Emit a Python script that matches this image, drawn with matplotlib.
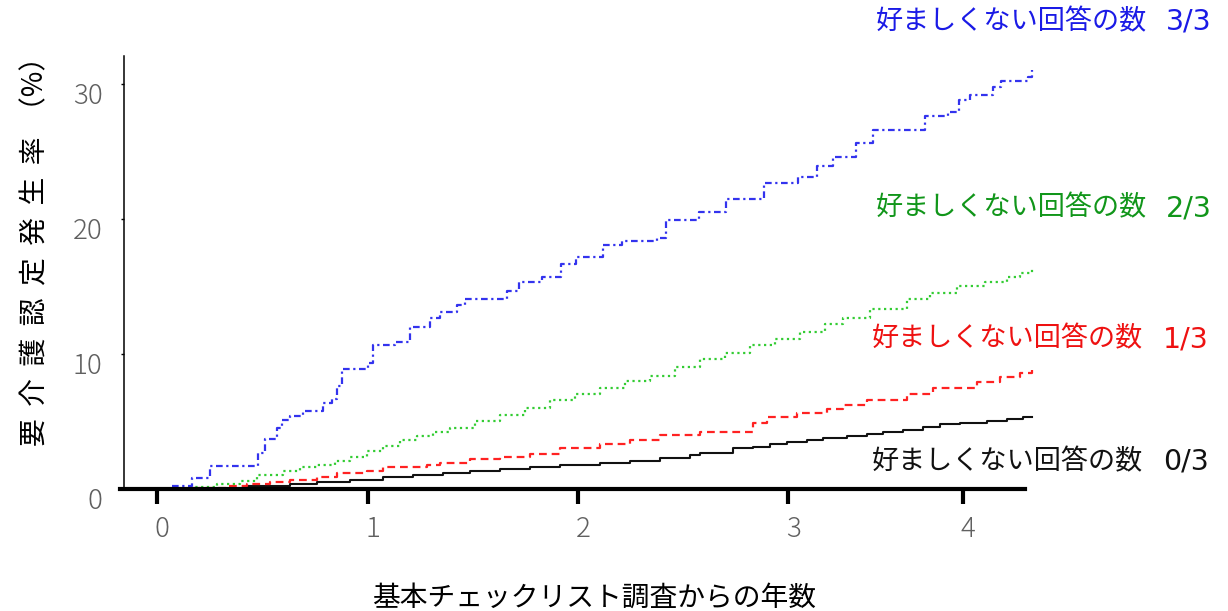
import matplotlib
matplotlib.use("Agg")
import matplotlib.pyplot as plt
import matplotlib.transforms as mtransforms

plt.rcParams['font.family'] = ['Noto Sans CJK JP', 'DejaVu Sans']

# ---- data (years since survey, cumulative incidence %) ----
blue_x = [0.070, 0.165, 0.251, 0.479, 0.512, 0.569, 0.593, 0.631, 0.693, 0.788, 0.830, 0.854,
          0.878, 1.002, 1.026, 1.131, 1.202, 1.297, 1.344, 1.425, 1.463, 1.663, 1.720, 1.829,
          1.920, 1.991, 2.119, 2.210, 2.376, 2.419, 2.576, 2.704, 2.885, 3.047, 3.137, 3.213,
          3.322, 3.403, 3.650, 3.760, 3.812, 3.865, 3.974, 4.012, 4.141, 4.159]
blue_y = [0.25, 0.8, 1.7, 2.7, 3.7, 4.5, 5.1, 5.4, 5.8, 6.4, 6.7, 7.6,
          8.9, 9.3, 10.7, 10.9, 12.0, 12.7, 13.1, 13.6, 14.1, 14.7, 15.3, 15.7,
          16.7, 17.2, 18.1, 18.4, 18.6, 19.9, 20.5, 21.5, 22.7, 23.1, 23.9, 24.6,
          25.6, 26.6, 27.6, 27.9, 28.8, 29.2, 29.8, 30.2, 30.5, 31.0]

green_x = [0.108, 0.170, 0.284, 0.393, 0.474, 0.598, 0.679, 0.759, 0.845, 0.916, 0.997, 1.073,
           1.154, 1.235, 1.311, 1.392, 1.511, 1.630, 1.748, 1.867, 1.986, 2.105, 2.224, 2.343,
           2.462, 2.581, 2.700, 2.818, 2.937, 3.056, 3.175, 3.261, 3.389, 3.565, 3.674, 3.803,
           3.936, 4.041, 4.103, 4.159]
green_y = [0.0, 0.15, 0.4, 0.6, 1.0, 1.3, 1.6, 1.8, 2.1, 2.4, 2.8, 3.2,
           3.6, 3.9, 4.2, 4.5, 5.0, 5.5, 6.0, 6.6, 7.0, 7.5, 8.0, 8.4,
           9.0, 9.6, 10.1, 10.7, 11.1, 11.6, 12.2, 12.7, 13.3, 14.1, 14.5, 15.0,
           15.3, 15.7, 16.0, 16.4]

red_x = [0.170, 0.331, 0.427, 0.536, 0.631, 0.759, 0.854, 0.997, 1.073, 1.282, 1.344, 1.487,
         1.630, 1.773, 1.915, 2.105, 2.248, 2.391, 2.581, 2.833, 2.899, 3.042, 3.185, 3.261,
         3.375, 3.565, 3.689, 3.898, 4.007, 4.103, 4.159]
red_y = [0.1, 0.2, 0.4, 0.5, 0.7, 0.9, 1.2, 1.3, 1.6, 1.8, 1.9, 2.2,
         2.4, 2.6, 3.0, 3.3, 3.6, 4.0, 4.2, 4.9, 5.3, 5.6, 5.9, 6.2,
         6.6, 7.0, 7.5, 7.9, 8.3, 8.6, 8.8]

black_x = [0.0, 0.427, 0.631, 0.759, 0.916, 1.073, 1.216, 1.359, 1.487, 1.630, 1.773, 1.915,
           2.105, 2.248, 2.391, 2.533, 2.581, 2.737, 2.833, 2.913, 2.994, 3.089, 3.166, 3.280,
           3.375, 3.451, 3.546, 3.641, 3.723, 3.817, 3.945, 4.041, 4.117, 4.159]
black_y = [0.0, 0.2, 0.4, 0.5, 0.7, 0.9, 1.0, 1.2, 1.3, 1.5, 1.6, 1.8,
           1.9, 2.1, 2.3, 2.5, 2.7, 3.0, 3.1, 3.3, 3.5, 3.6, 3.8, 3.9,
           4.1, 4.2, 4.4, 4.6, 4.8, 4.9, 5.0, 5.2, 5.3, 5.3]

label_prefix = "好ましくない回答の数"
label_fracs = ["0/3", "1/3", "2/3", "3/3"]
xtick_values = [0, 1, 2, 3, 3.83]
xtick_labels = ["0", "1", "2", "3", "4"]
ytick_values = [0, 10, 20, 30]
ytick_labels = ["0", "10", "20", "30"]
x_label = "基本チェックリスト調査からの年数"
y_label = "要  介  護  認  定  発  生  率  （%）"

# ---- figure ----
fig = plt.figure(figsize=(12.28, 6.11), dpi=100)
ax = fig.add_axes([0.0972, 0.1997, 0.7502, 0.7115])
ax.set_xlim(-0.18, 4.2)
ax.set_ylim(0, 32.2)

ax.step(black_x, black_y, where='post', color='#111111', lw=1.5)
ax.step(red_x, red_y, where='post', color='#ff2222', lw=1.6, linestyle=(0, (3.5, 2.2)))
ax.step(green_x, green_y, where='post', color='#33cc33', lw=1.6, linestyle=(0, (1, 1.6)))
ax.step(blue_x, blue_y, where='post', color='#3333ee', lw=1.6, linestyle=(0, (3, 1.6, 1, 1.6)))

for s in ['top', 'right']:
    ax.spines[s].set_visible(False)
ax.spines['bottom'].set_linewidth(3)
ax.spines['bottom'].set_bounds(-0.177, 4.126)
ax.spines['left'].set_linewidth(1.1)
ax.spines['left'].set_position(('data', -0.158))
ax.spines['left'].set_bounds(0, 32.1)

ax.set_xticks(xtick_values)
ax.set_xticklabels(xtick_labels)
ax.set_yticks(ytick_values)
ax.set_yticklabels(ytick_labels)
ax.tick_params(axis='x', length=11, width=3, direction='out', pad=8,
               labelsize=20, labelcolor='#606060')
ax.tick_params(axis='y', length=2.5, width=1, direction='out', pad=13,
               labelsize=20, labelcolor='#606060')
for lab in ax.get_xticklabels() + ax.get_yticklabels():
    lab.set_fontweight('light')
dx = mtransforms.ScaledTranslation(5 / 100, 0, fig.dpi_scale_trans)
for lab in ax.get_xticklabels():
    lab.set_transform(lab.get_transform() + dx)
dy = mtransforms.ScaledTranslation(0, -9 / 100, fig.dpi_scale_trans)
for lab in ax.get_yticklabels():
    lab.set_transform(lab.get_transform() + dy)

fig.text(594 / 1228, 1 - 598 / 611, x_label, ha='center', va='center', fontsize=20, color='black')
fig.text(35 / 1228, 1 - 244 / 611, y_label, ha='center', va='center', rotation=90,
         fontsize=20, color='black')

label_colors = ['#111111', '#ee1111', '#11961a', '#1a1ae6']
label_left = [872, 872, 876, 876]
label_frac_center = [1186, 1186, 1189, 1189]
label_y = [462, 339, 208, 22]
for frac, col, xl, xc, py in zip(label_fracs, label_colors, label_left, label_frac_center, label_y):
    fig.text(xl / 1228, 1 - py / 611, label_prefix, ha='left', va='center', fontsize=19.5, color=col)
    fig.text(xc / 1228, 1 - py / 611, frac, ha='center', va='center', fontsize=20.5, color=col,
             family=['DejaVu Sans'])

fig.savefig('out.png', dpi=100)
